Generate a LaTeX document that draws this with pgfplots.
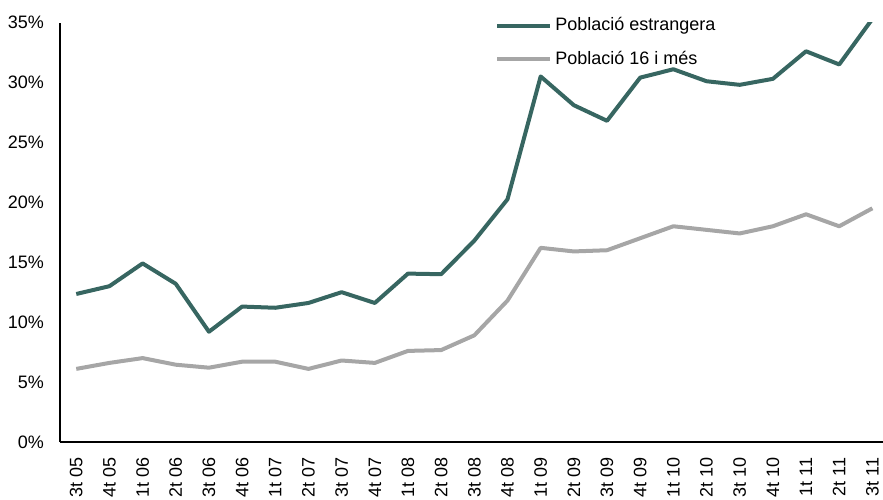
\documentclass[border=0pt]{standalone}
\usepackage{pgfplots}
\pgfplotsset{compat=1.18}
\usepackage{fontspec}
\setmainfont{Liberation Sans}
\definecolor{teal}{RGB}{55,102,97}
\definecolor{gris}{RGB}{166,166,166}
\begin{document}
\begin{tikzpicture}
\begin{axis}[
  at={(0,0)}, anchor=south west,
  scale only axis,
  width=411.5pt, height=209.75pt,
  xmin=-0.49, xmax=24.32,
  ymin=0, ymax=35,
  axis lines=left,
  axis line style={-, line width=0.6pt, black},
  xtick={0,...,24},
  xticklabels={3t 05,4t 05,1t 06,2t 06,3t 06,4t 06,1t 07,2t 07,3t 07,4t 07,1t 08,2t 08,3t 08,4t 08,1t 09,2t 09,3t 09,4t 09,1t 10,2t 10,3t 10,4t 10,1t 11,2t 11,3t 11},
  ytick={0,5,...,35},
  yticklabel={\pgfmathprintnumber{\tick}\%},
  /pgf/number format/assume math mode=true,
  major tick length=0pt,
  tick label style={font=\fontsize{9}{10}\selectfont},
  xticklabel style={rotate=90, anchor=east, xshift=-4.3pt},
  yticklabel style={xshift=-4.5pt},
  legend style={draw=none, fill=none, at={(0.5286,1.02)}, anchor=north west,
    font=\fontsize{9}{10}\selectfont, inner sep=0pt, row sep=5.6pt,
    nodes={inner sep=1.5pt}},
  legend cell align=left,
  legend image code/.code={\draw[#1] (0pt,0pt) -- (26.5pt,0pt);},
  every axis plot/.append style={line width=2pt, line join=round},
]
\addplot[teal] coordinates {
(0,12.35) (1,13.0) (2,14.9) (3,13.2) (4,9.2) (5,11.3) (6,11.2) (7,11.6) (8,12.5) (9,11.6)
(10,14.05) (11,14.0) (12,16.8) (13,20.25) (14,30.5) (15,28.1) (16,26.8) (17,30.4) (18,31.1)
(19,30.1) (20,29.8) (21,30.3) (22,32.6) (23,31.5) (24,35.3)};
\addlegendentry{Població estrangera}
\addplot[gris] coordinates {
(0,6.1) (1,6.6) (2,7.0) (3,6.45) (4,6.2) (5,6.7) (6,6.7) (7,6.1) (8,6.8) (9,6.6)
(10,7.6) (11,7.67) (12,8.9) (13,11.8) (14,16.2) (15,15.9) (16,16.0) (17,17.0) (18,18.0)
(19,17.7) (20,17.4) (21,18.0) (22,19.0) (23,18.0) (24,19.5)};
\addlegendentry{Població 16 i més}
\end{axis}
\pgfresetboundingbox
\path[use as bounding box] (-30pt,-28.5pt) rectangle (411.5pt,221pt);
\end{tikzpicture}
\end{document}
